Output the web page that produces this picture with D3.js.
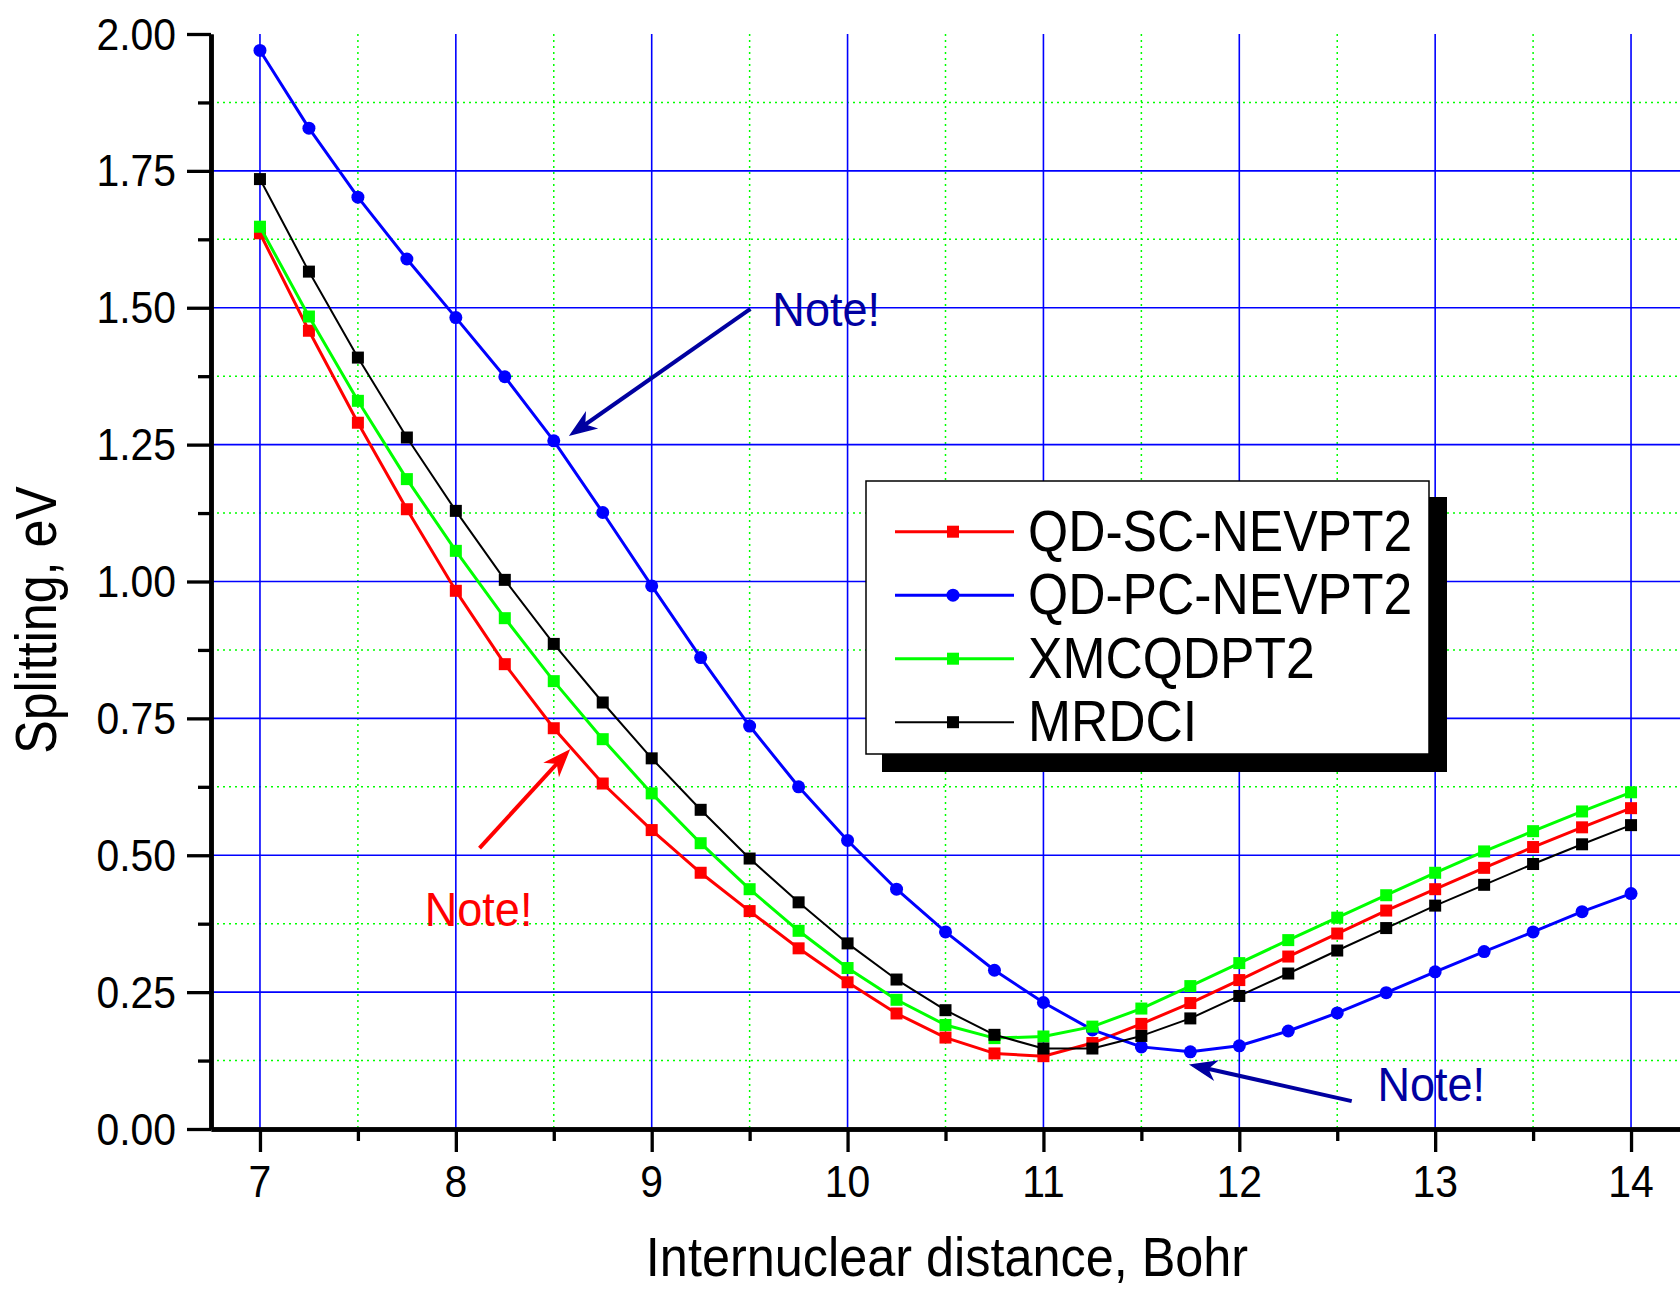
<!DOCTYPE html>
<html>
<head>
<meta charset="utf-8">
<script src="https://cdn.jsdelivr.net/npm/d3@7"></script>
<style>
  html, body { margin: 0; padding: 0; background: #fff; }
  svg { display: block; font-family: "Liberation Sans", Arial, sans-serif; }
</style>
</head>
<body>
<svg id="chart" width="1680" height="1289"></svg>
<script>
// Internuclear distances (Bohr)
const distances = [7, 7.25, 7.5, 7.75, 8, 8.25, 8.5, 8.75, 9, 9.25, 9.5, 9.75, 10, 10.25, 10.5,
  10.75, 11, 11.25, 11.5, 11.75, 12, 12.25, 12.5, 12.75, 13, 13.25, 13.5, 13.75, 14];

// Splitting (eV) per method
const qdScNevpt2 = [1.636, 1.458, 1.290, 1.132, 0.983, 0.849, 0.732, 0.631, 0.546, 0.468, 0.398,
  0.330, 0.268, 0.211, 0.167, 0.138, 0.133, 0.157, 0.192, 0.230, 0.272, 0.315, 0.357, 0.399,
  0.438, 0.477, 0.515, 0.551, 0.586];
const qdPcNevpt2 = [1.970, 1.828, 1.702, 1.589, 1.482, 1.374, 1.257, 1.126, 0.992, 0.861, 0.736,
  0.625, 0.527, 0.438, 0.360, 0.290, 0.231, 0.181, 0.150, 0.141, 0.152, 0.179, 0.212, 0.249,
  0.287, 0.324, 0.360, 0.397, 0.430];
const xmcqdpt2 = [1.648, 1.484, 1.330, 1.187, 1.056, 0.933, 0.818, 0.712, 0.613, 0.522, 0.438,
  0.362, 0.294, 0.236, 0.190, 0.166, 0.169, 0.187, 0.220, 0.261, 0.303, 0.345, 0.386, 0.427,
  0.468, 0.507, 0.544, 0.580, 0.615];
const mrdci = [1.735, 1.566, 1.409, 1.263, 1.129, 1.003, 0.886, 0.779, 0.677, 0.583, 0.494,
  0.414, 0.339, 0.273, 0.217, 0.172, 0.147, 0.147, 0.170, 0.202, 0.243, 0.284, 0.326, 0.367,
  0.408, 0.446, 0.484, 0.520, 0.555];

const seriesNames = ["QD-SC-NEVPT2", "QD-PC-NEVPT2", "XMCQDPT2", "MRDCI"];

// Axis ticks
const xMajorTicks = [7, 8, 9, 10, 11, 12, 13, 14];
const xMinorTicks = [7.5, 8.5, 9.5, 10.5, 11.5, 12.5, 13.5];
const yMajorTicks = [0, 0.25, 0.5, 0.75, 1.0, 1.25, 1.5, 1.75, 2.0];
const yMinorTicks = [0.125, 0.375, 0.625, 0.875, 1.125, 1.375, 1.625, 1.875];
const yTickLabels = ["0.00", "0.25", "0.50", "0.75", "1.00", "1.25", "1.50", "1.75", "2.00"];

// Annotation arrows: [tailX, tailY, tipX, tipY] in data units, plus "Note!" labels
const noteArrows = [
  [9.504, 1.498, 8.586, 1.268],
  [8.121, 0.513, 8.577, 0.691],
  [12.574, 0.051, 11.753, 0.117]
];
const noteLabels = [
  [9.616, 1.467],
  [7.841, 0.371],
  [12.705, 0.051]
];
const noteColors = ["#0000a0", "#ff0000", "#0000a0"];

const series = [
  { name: seriesNames[0], values: qdScNevpt2, color: "#ff0000", marker: "square", width: 3 },
  { name: seriesNames[1], values: qdPcNevpt2, color: "#0000ff", marker: "circle", width: 3 },
  { name: seriesNames[2], values: xmcqdpt2, color: "#00ff00", marker: "square", width: 3 },
  { name: seriesNames[3], values: mrdci, color: "#000000", marker: "square", width: 2 }
];

const svg = d3.select("#chart");
const plotLeft = 211, plotRight = 1680, plotTop = 34, plotBottom = 1129;

const x = d3.scaleLinear().domain([6.75, 14.25]).range([plotLeft, plotRight]);
const y = d3.scaleLinear().domain([0, 2]).range([plotBottom, plotTop]);

svg.append("rect").attr("width", 1680).attr("height", 1289).attr("fill", "#fff");

// Minor grid (green dotted)
const grid = svg.append("g");
grid.selectAll(".vminor").data(xMinorTicks).join("line")
  .attr("x1", d => x(d)).attr("x2", d => x(d)).attr("y1", plotTop).attr("y2", plotBottom)
  .attr("stroke", "#00ff00").attr("stroke-width", 1.5).attr("stroke-dasharray", "2,4");
grid.selectAll(".hminor").data(yMinorTicks).join("line")
  .attr("x1", plotLeft).attr("x2", plotRight).attr("y1", d => y(d)).attr("y2", d => y(d))
  .attr("stroke", "#00ff00").attr("stroke-width", 1.5).attr("stroke-dasharray", "2,4");

// Major grid (blue solid)
grid.selectAll(".vmajor").data(xMajorTicks).join("line")
  .attr("x1", d => x(d)).attr("x2", d => x(d)).attr("y1", plotTop).attr("y2", plotBottom)
  .attr("stroke", "#0000ff").attr("stroke-width", 1.6);
grid.selectAll(".hmajor").data(yMajorTicks.filter(v => v > 0 && v < 2)).join("line")
  .attr("x1", plotLeft).attr("x2", plotRight).attr("y1", d => y(d)).attr("y2", d => y(d))
  .attr("stroke", "#0000ff").attr("stroke-width", 1.6);

// Series lines and markers
const line = d3.line().x((d, i) => x(distances[i])).y(d => y(d));
series.forEach(s => {
  const g = svg.append("g");
  g.append("path").datum(s.values).attr("d", line)
    .attr("fill", "none").attr("stroke", s.color).attr("stroke-width", s.width)
    .attr("stroke-linejoin", "round");
  if (s.marker === "circle") {
    g.selectAll("circle").data(s.values).join("circle")
      .attr("cx", (d, i) => x(distances[i])).attr("cy", d => y(d)).attr("r", 6.5)
      .attr("fill", s.color);
  } else {
    g.selectAll("rect").data(s.values).join("rect")
      .attr("x", (d, i) => x(distances[i]) - 6).attr("y", d => y(d) - 6)
      .attr("width", 12).attr("height", 12).attr("fill", s.color);
  }
});

// Text helper: horizontally condensed glyphs
function label(parent, tx, ty, str, size, sx, anchor, color, rotate) {
  return parent.append("text")
    .attr("transform", `translate(${tx},${ty})` + (rotate ? ` rotate(${rotate})` : "") + ` scale(${sx},1)`)
    .attr("text-anchor", anchor).attr("font-size", size).attr("fill", color || "#000")
    .text(str);
}

// Axes
const yAxisMinor = d3.axisLeft(y).tickValues(yMinorTicks).tickSize(13).tickFormat("").tickSizeOuter(0);
const yAxis = d3.axisLeft(y).tickValues(yMajorTicks).tickSize(24).tickFormat("").tickSizeOuter(0);
const xAxisMinor = d3.axisBottom(x).tickValues(xMinorTicks).tickSize(12).tickFormat("").tickSizeOuter(0);
const xAxis = d3.axisBottom(x).tickValues(xMajorTicks).tickSize(23).tickFormat("").tickSizeOuter(0);

function styleAxis(g) {
  g.selectAll(".tick line").attr("stroke", "#000").attr("stroke-width", 3.3);
  g.select(".domain").attr("stroke", "#000").attr("stroke-width", 4.5);
}
svg.append("g").attr("transform", `translate(${plotLeft},0)`).call(yAxisMinor).call(styleAxis);
svg.append("g").attr("transform", `translate(${plotLeft},0)`).call(yAxis).call(styleAxis);
svg.append("g").attr("transform", `translate(0,${plotBottom})`).call(xAxisMinor).call(styleAxis);
svg.append("g").attr("transform", `translate(0,${plotBottom})`).call(xAxis).call(styleAxis);

// Tick labels
const tickLabels = svg.append("g");
yMajorTicks.forEach((v, i) => {
  label(tickLabels, 176, y(v) + 15.5, yTickLabels[i], 44, 0.93, "end");
});
xMajorTicks.forEach(v => {
  label(tickLabels, x(v), 1197, String(v), 44, 0.93, "middle");
});

// Axis titles
label(svg, 947, 1276, "Internuclear distance, Bohr", 56, 0.9, "middle");
label(svg, 56, 620, "Splitting, eV", 57, 0.88, "middle", "#000", -90);

// Annotation arrows
function arrow(parent, x1, y1, x2, y2, color) {
  const ang = Math.atan2(y2 - y1, x2 - x1);
  const len = Math.hypot(x2 - x1, y2 - y1);
  const g = parent.append("g")
    .attr("transform", `translate(${x1},${y1}) rotate(${ang * 180 / Math.PI})`);
  g.append("line").attr("x1", 0).attr("y1", 0).attr("x2", len - 14).attr("y2", 0)
    .attr("stroke", color).attr("stroke-width", 4);
  g.append("path")
    .attr("d", `M${len},0 L${len - 24},-9 L${len - 17},0 L${len - 24},9 Z`)
    .attr("fill", color).attr("stroke", color).attr("stroke-width", 1.5)
    .attr("stroke-linejoin", "miter");
}
const notes = svg.append("g");
noteArrows.forEach((a, i) => {
  arrow(notes, x(a[0]), y(a[1]), x(a[2]), y(a[3]), noteColors[i]);
});
noteLabels.forEach((p, i) => {
  label(notes, x(p[0]), y(p[1]), "Note!", 49, 0.92, "start", noteColors[i]);
});

// Legend with drop shadow
const legend = svg.append("g");
legend.append("rect").attr("x", 882).attr("y", 497).attr("width", 565).attr("height", 275).attr("fill", "#000");
legend.append("rect").attr("x", 866).attr("y", 481).attr("width", 563).attr("height", 273)
  .attr("fill", "#fff").attr("stroke", "#000").attr("stroke-width", 1.5);
series.forEach((s, i) => {
  const ly = 531.7 + i * 63.5;
  legend.append("line").attr("x1", 895).attr("x2", 1014).attr("y1", ly).attr("y2", ly)
    .attr("stroke", s.color).attr("stroke-width", s.width);
  if (s.marker === "circle") {
    legend.append("circle").attr("cx", 953).attr("cy", ly).attr("r", 6.5).attr("fill", s.color);
  } else {
    legend.append("rect").attr("x", 947).attr("y", ly - 6).attr("width", 12).attr("height", 12).attr("fill", s.color);
  }
  label(legend, 1028, ly + 19, s.name, 58, 0.89, "start");
});
</script>
</body>
</html>
